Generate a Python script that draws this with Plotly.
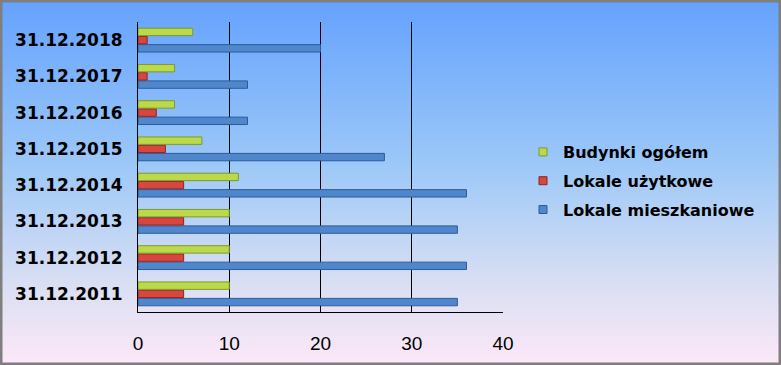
import base64
import plotly.graph_objects as go

categories = ["31.12.2011", "31.12.2012", "31.12.2013", "31.12.2014",
              "31.12.2015", "31.12.2016", "31.12.2017", "31.12.2018"]
lokale_mieszkaniowe = [35, 36, 35, 36, 27, 12, 12, 20]
lokale_uzytkowe = [5, 5, 5, 5, 3, 2, 1, 1]
budynki_ogolem = [10, 10, 10, 11, 7, 4, 4, 6]
x_ticks = [0, 10, 20, 30, 40]

series = [
    ("Lokale mieszkaniowe", lokale_mieszkaniowe, "#4f86cc", "#2b5c98"),
    ("Lokale użytkowe", lokale_uzytkowe, "#d8463f", "#8c2420"),
    ("Budynki ogółem", budynki_ogolem, "#bcd94a", "#7c9a2a"),
]

W, H = 781, 365
L, R, T, B = 138, 278, 22, 53
PW, PH = W - L - R, H - T - B

svg = (
    '<svg xmlns="http://www.w3.org/2000/svg" width="781" height="365" preserveAspectRatio="none">'
    '<defs><linearGradient id="g" x1="0" y1="0" x2="0" y2="1">'
    '<stop offset="0" stop-color="#65a2fe"/>'
    '<stop offset="0.45" stop-color="#9cc8f8"/>'
    '<stop offset="0.78" stop-color="#dadff3"/>'
    '<stop offset="1" stop-color="#fde8f8"/>'
    '</linearGradient></defs>'
    '<rect x="0" y="0" width="781" height="365" fill="url(#g)"/></svg>'
)
uri = "data:image/svg+xml;base64," + base64.b64encode(svg.encode()).decode()

fig = go.Figure()
for name, vals, fill, edge in series:
    fig.add_trace(go.Bar(
        y=categories, x=vals, orientation="h", name=name, showlegend=False,
        marker=dict(color=fill, line=dict(color=edge, width=1)),
    ))
for name, vals, fill, edge in reversed(series):
    fig.add_trace(go.Scatter(
        x=[None], y=[None], mode="markers", name=name, legendgroup=name,
        marker=dict(symbol="square", size=8, color=fill, line=dict(color=edge, width=1)),
    ))

fig.update_layout(
    width=W, height=H,
    margin=dict(l=L, r=R, t=T, b=B),
    paper_bgcolor="rgba(0,0,0,0)",
    plot_bgcolor="rgba(0,0,0,0)",
    barmode="group",
    bargap=0.32,
    bargroupgap=0.1,
    showlegend=True,
    legend=dict(
        traceorder="grouped",
        x=(523 - L) / PW, xanchor="left",
        y=(312 - 181) / PH, yanchor="middle",
        font=dict(family="DejaVu Sans", size=16, color="#000000", weight="bold"),
        bgcolor="rgba(0,0,0,0)",
        itemwidth=30,
        tracegroupgap=5,
    ),
    xaxis=dict(
        range=[0, 40],
        tickvals=x_ticks,
        ticktext=[str(v) for v in x_ticks],
        showgrid=True, gridcolor="#000000", gridwidth=1,
        zeroline=False,
        showline=True, linecolor="#000000", linewidth=1,
        ticks="inside", ticklen=6, tickcolor="#000000",
        tickfont=dict(family="Liberation Sans", size=19, color="#000000"),
        ticklabelstandoff=14,
        fixedrange=True,
    ),
    yaxis=dict(
        categoryorder="array", categoryarray=categories,
        showgrid=False,
        showline=True, linecolor="#000000", linewidth=1,
        ticks="",
        tickfont=dict(family="DejaVu Sans", size=17, color="#000000", weight="bold"),
        ticklabelstandoff=11,
        fixedrange=True,
    ),
    images=[dict(
        source=uri, xref="paper", yref="paper",
        x=-L / PW, y=1 + T / PH, sizex=W / PW, sizey=H / PH,
        xanchor="left", yanchor="top", sizing="stretch", layer="below",
    )],
    shapes=[dict(
        type="rect", xref="paper", yref="paper",
        x0=(-L + 1) / PW, x1=(W - L - 1) / PW,
        y0=(-B + 1) / PH, y1=1 + (T - 1) / PH,
        line=dict(color="#7f7f7f", width=3), fillcolor="rgba(0,0,0,0)",
    )],
)

fig.write_html(
    "out.html",
    config={"displayModeBar": False},
    post_script="document.body.style.margin='0';document.body.style.padding='0';",
)
